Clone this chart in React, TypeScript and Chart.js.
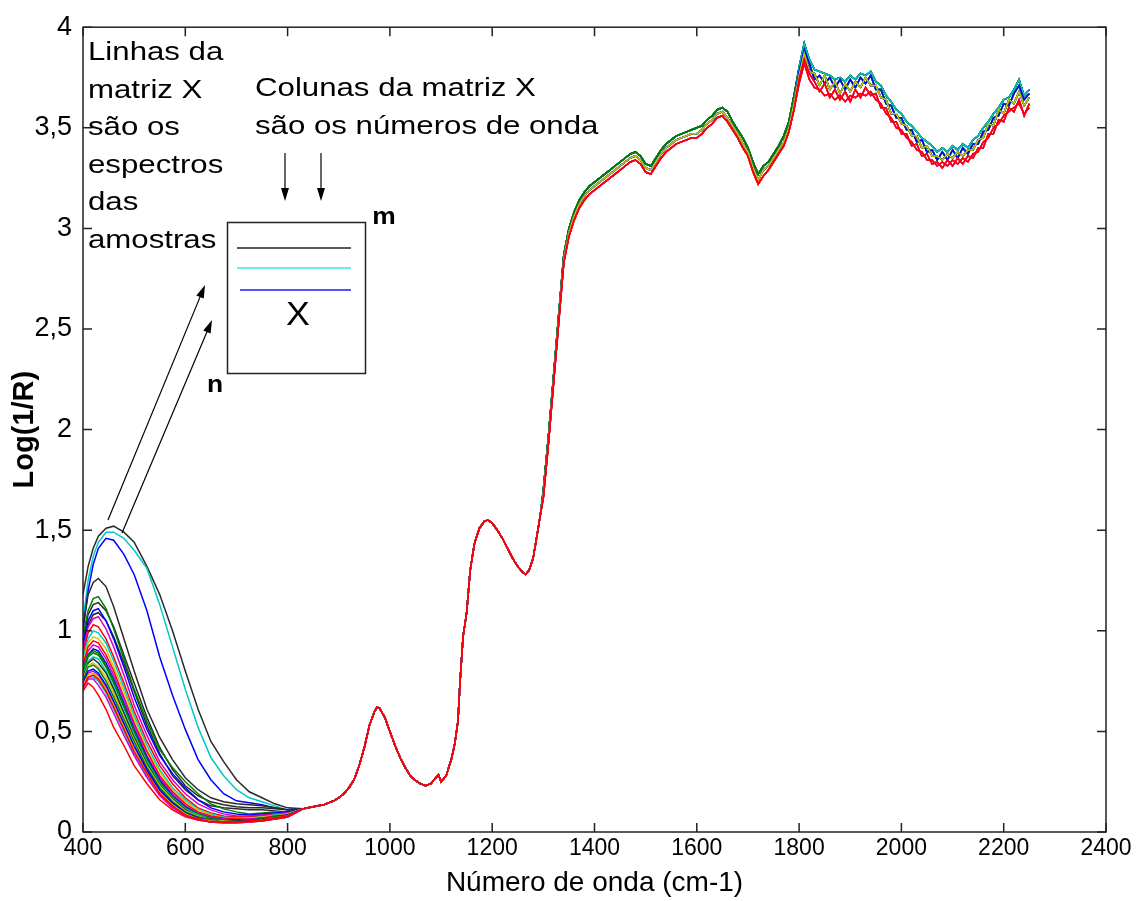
import React, { useEffect, useRef } from 'react';
import { Chart, registerables } from 'chart.js';

Chart.register(...registerables);

// ---------- data ----------
// wavenumbers (cm-1) of the low region where the samples differ
const lowX = [400, 410, 420, 430, 445, 460, 480, 500, 525, 550, 575, 600, 625, 650, 675, 700, 725, 750, 775, 800];

// Log(1/R) per sample in the low region
const s01 = [1.18, 1.32, 1.41, 1.47, 1.51, 1.52, 1.49, 1.44, 1.32, 1.18, 1.0, 0.8, 0.61, 0.45, 0.35, 0.26, 0.2, 0.17, 0.14, 0.12];
const s02 = [1.05, 1.25, 1.37, 1.44, 1.49, 1.49, 1.46, 1.4, 1.31, 1.13, 0.92, 0.71, 0.52, 0.37, 0.28, 0.21, 0.17, 0.15, 0.13, 0.11];
const s03 = [1.0, 1.2, 1.33, 1.41, 1.46, 1.45, 1.38, 1.28, 1.1, 0.87, 0.68, 0.51, 0.36, 0.26, 0.19, 0.155, 0.145, 0.135, 0.12, 0.11];
const s04 = [1.02, 1.18, 1.24, 1.26, 1.22, 1.12, 0.96, 0.8, 0.61, 0.47, 0.36, 0.27, 0.21, 0.17, 0.15, 0.14, 0.135, 0.13, 0.12, 0.11];
const s05 = [0.95, 1.08, 1.13, 1.14, 1.1, 1.02, 0.88, 0.74, 0.57, 0.42, 0.31, 0.23, 0.18, 0.15, 0.135, 0.125, 0.12, 0.12, 0.115, 0.11];
const s06 = [0.92, 1.03, 1.08, 1.09, 1.05, 0.97, 0.84, 0.7, 0.53, 0.39, 0.28, 0.21, 0.16, 0.13, 0.12, 0.115, 0.11, 0.11, 0.105, 0.1];
const s07 = [0.98, 1.1, 1.16, 1.17, 1.11, 1.01, 0.86, 0.71, 0.55, 0.41, 0.32, 0.25, 0.19, 0.14, 0.115, 0.1, 0.09, 0.095, 0.1, 0.1];
const s08 = [0.93, 1.05, 1.1, 1.11, 1.05, 0.96, 0.82, 0.67, 0.51, 0.38, 0.29, 0.22, 0.16, 0.12, 0.1, 0.09, 0.085, 0.09, 0.095, 0.1];
const s09 = [0.9, 1.02, 1.06, 1.07, 1.01, 0.92, 0.78, 0.63, 0.48, 0.35, 0.26, 0.19, 0.14, 0.11, 0.09, 0.08, 0.08, 0.085, 0.09, 0.095];
const s10 = [0.88, 0.99, 1.03, 1.02, 0.96, 0.87, 0.74, 0.6, 0.45, 0.33, 0.24, 0.17, 0.12, 0.095, 0.08, 0.075, 0.075, 0.08, 0.085, 0.09];
const s11 = [0.86, 0.96, 1.0, 0.99, 0.94, 0.85, 0.72, 0.58, 0.43, 0.31, 0.22, 0.16, 0.115, 0.09, 0.075, 0.07, 0.07, 0.075, 0.085, 0.09];
const s12 = [0.84, 0.94, 0.97, 0.96, 0.91, 0.82, 0.7, 0.56, 0.41, 0.3, 0.21, 0.15, 0.11, 0.085, 0.07, 0.065, 0.07, 0.075, 0.08, 0.09];
const s13 = [0.83, 0.92, 0.95, 0.94, 0.88, 0.8, 0.67, 0.54, 0.4, 0.28, 0.2, 0.14, 0.1, 0.08, 0.07, 0.065, 0.065, 0.07, 0.08, 0.085];
const s14 = [0.81, 0.9, 0.93, 0.92, 0.86, 0.78, 0.66, 0.53, 0.38, 0.27, 0.19, 0.13, 0.095, 0.075, 0.065, 0.06, 0.065, 0.07, 0.075, 0.085];
const s15 = [0.8, 0.88, 0.91, 0.9, 0.84, 0.76, 0.64, 0.51, 0.37, 0.26, 0.18, 0.125, 0.09, 0.07, 0.06, 0.06, 0.06, 0.065, 0.075, 0.085];
const s16 = [0.79, 0.87, 0.89, 0.88, 0.82, 0.74, 0.62, 0.5, 0.36, 0.25, 0.175, 0.12, 0.09, 0.07, 0.06, 0.055, 0.06, 0.065, 0.075, 0.08];
const s17 = [0.78, 0.85, 0.87, 0.86, 0.8, 0.72, 0.6, 0.48, 0.35, 0.24, 0.17, 0.115, 0.085, 0.065, 0.055, 0.055, 0.06, 0.065, 0.07, 0.08];
const s18 = [0.77, 0.84, 0.86, 0.84, 0.79, 0.71, 0.59, 0.47, 0.34, 0.235, 0.165, 0.11, 0.08, 0.065, 0.055, 0.055, 0.06, 0.065, 0.07, 0.08];
const s19 = [0.76, 0.83, 0.84, 0.82, 0.77, 0.69, 0.57, 0.46, 0.33, 0.23, 0.16, 0.105, 0.08, 0.06, 0.055, 0.05, 0.055, 0.06, 0.07, 0.08];
const s20 = [0.75, 0.82, 0.83, 0.81, 0.75, 0.67, 0.56, 0.45, 0.32, 0.22, 0.15, 0.1, 0.075, 0.06, 0.05, 0.05, 0.055, 0.06, 0.07, 0.08];
const s21 = [0.74, 0.8, 0.81, 0.79, 0.73, 0.65, 0.54, 0.43, 0.31, 0.21, 0.145, 0.095, 0.07, 0.055, 0.05, 0.05, 0.055, 0.06, 0.065, 0.075];
const s22 = [0.74, 0.79, 0.8, 0.78, 0.72, 0.64, 0.53, 0.42, 0.3, 0.2, 0.14, 0.09, 0.07, 0.055, 0.05, 0.05, 0.05, 0.06, 0.065, 0.075];
const s23 = [0.72, 0.77, 0.78, 0.76, 0.7, 0.62, 0.51, 0.4, 0.29, 0.19, 0.13, 0.085, 0.065, 0.05, 0.05, 0.05, 0.05, 0.055, 0.065, 0.075];
const s24 = [0.72, 0.77, 0.77, 0.75, 0.69, 0.61, 0.5, 0.39, 0.28, 0.185, 0.125, 0.085, 0.065, 0.05, 0.045, 0.045, 0.05, 0.055, 0.065, 0.075];
const s25 = [0.71, 0.76, 0.76, 0.73, 0.67, 0.59, 0.48, 0.38, 0.27, 0.18, 0.12, 0.08, 0.06, 0.05, 0.045, 0.045, 0.05, 0.055, 0.065, 0.075];
const s26 = [0.7, 0.74, 0.72, 0.68, 0.61, 0.52, 0.43, 0.33, 0.24, 0.16, 0.11, 0.075, 0.06, 0.05, 0.05, 0.05, 0.055, 0.06, 0.07, 0.08];
const s27 = [0.81, 0.88, 0.9, 0.89, 0.83, 0.75, 0.63, 0.5, 0.36, 0.25, 0.17, 0.12, 0.085, 0.065, 0.06, 0.055, 0.06, 0.065, 0.075, 0.08];
const s28 = [0.73, 0.78, 0.79, 0.77, 0.71, 0.63, 0.52, 0.41, 0.29, 0.195, 0.135, 0.09, 0.065, 0.055, 0.05, 0.05, 0.05, 0.06, 0.065, 0.075];

const lowSeries = [s26, s23, s25, s28, s21, s22, s24, s20, s19, s18, s17, s16, s27, s15, s14, s13, s12, s11, s10, s09, s08, s07, s06, s05, s04, s03, s02, s01];
// MATLAB colour letter of each sample (same order as lowSeries)
const seriesColor = ['r', 'r', 'm', 'y', 'b', 'm', 'c', 'g', 'y', 'k', 'c', 'g', 'g', 'b', 'm', 'r', 'y', 'c', 'r', 'm', 'b', 'g', 'k', 'k', 'k', 'b', 'c', 'k'];
// which trace each sample follows in 1300–1790 and in 1800–2250 cm-1
const seriesBand1 = ['C', 'C', 'C', 'B', 'B', 'C', 'B', 'A', 'B', 'A', 'A', 'B', 'A', 'B', 'B', 'C', 'B', 'A', 'C', 'B', 'B', 'A', 'A', 'A', 'A', 'B', 'A', 'A'];
const seriesBand2 = ['C', 'E', 'E', 'B', 'D', 'C', 'A', 'D', 'E', 'A', 'D', 'B', 'A', 'B', 'E', 'C', 'D', 'A', 'E', 'B', 'D', 'A', 'B', 'D', 'A', 'B', 'A', 'D'];

// common spectrum, 830–1295 cm-1
const midX = [830, 840, 850, 860, 870, 880, 890, 900, 910, 920, 930, 940, 950, 960, 970, 975, 980, 990, 1000, 1010, 1020, 1030, 1040, 1050, 1060, 1070, 1080, 1090, 1095, 1100, 1110, 1120, 1127, 1133, 1137, 1143, 1150, 1157, 1165, 1175, 1185, 1192, 1200, 1210, 1220, 1230, 1240, 1250, 1258, 1265, 1272, 1280, 1288, 1295];
const midY = [0.115, 0.12, 0.125, 0.13, 0.135, 0.145, 0.155, 0.17, 0.19, 0.22, 0.26, 0.33, 0.42, 0.53, 0.6, 0.62, 0.615, 0.57, 0.5, 0.43, 0.37, 0.32, 0.28, 0.255, 0.24, 0.23, 0.24, 0.27, 0.285, 0.25, 0.28, 0.36, 0.44, 0.55, 0.74, 0.97, 1.09, 1.3, 1.43, 1.51, 1.545, 1.55, 1.535, 1.5, 1.46, 1.41, 1.36, 1.32, 1.295, 1.28, 1.3, 1.36, 1.48, 1.59];

// 1300–1790 cm-1, every 10 cm-1
const band1X = Array.from({ length: 50 }, (_, i) => 1300 + i * 10);
const band1A = [
  1.7, 1.97, 2.27, 2.57, 2.87, 3.0, 3.08, 3.14, 3.18, 3.21, 3.23, 3.25, 3.27, 3.29, 3.31, 3.33, 3.35, 3.37, 3.38, 3.36,
  3.32, 3.31, 3.35, 3.39, 3.42, 3.44, 3.46, 3.47, 3.48, 3.49, 3.5, 3.51, 3.54, 3.56, 3.59, 3.6, 3.58, 3.53, 3.49, 3.45,
  3.4, 3.33, 3.27, 3.31, 3.33, 3.37, 3.41, 3.46, 3.53, 3.66,
];
const band1B = [
  1.68, 1.95, 2.25, 2.55, 2.85, 2.98, 3.06, 3.12, 3.16, 3.19, 3.21, 3.23, 3.25, 3.27, 3.29, 3.31, 3.33, 3.35, 3.36, 3.34,
  3.3, 3.29, 3.33, 3.37, 3.4, 3.42, 3.44, 3.45, 3.46, 3.47, 3.47, 3.49, 3.52, 3.54, 3.57, 3.58, 3.55, 3.51, 3.47, 3.42,
  3.38, 3.3, 3.24, 3.29, 3.31, 3.35, 3.39, 3.43, 3.5, 3.62,
];
const band1C = [
  1.66, 1.93, 2.23, 2.53, 2.83, 2.96, 3.04, 3.1, 3.14, 3.17, 3.19, 3.21, 3.23, 3.25, 3.27, 3.29, 3.31, 3.33, 3.34, 3.32,
  3.28, 3.27, 3.31, 3.35, 3.38, 3.4, 3.42, 3.43, 3.44, 3.45, 3.45, 3.47, 3.5, 3.52, 3.55, 3.56, 3.53, 3.49, 3.45, 3.4,
  3.36, 3.28, 3.22, 3.26, 3.29, 3.33, 3.37, 3.41, 3.48, 3.59,
];

// 1800–2250 cm-1, every 10 cm-1 (noisy)
const band2X = Array.from({ length: 46 }, (_, i) => 1800 + i * 10);
const band2A = [
  3.8, 3.92, 3.84, 3.79, 3.78, 3.77, 3.76, 3.74, 3.75, 3.73, 3.76, 3.74, 3.77, 3.76, 3.78, 3.73, 3.71, 3.66, 3.63, 3.59,
  3.57, 3.53, 3.51, 3.48, 3.45, 3.43, 3.41, 3.38, 3.4, 3.38, 3.41, 3.39, 3.42, 3.4, 3.44, 3.46, 3.5, 3.53, 3.57, 3.6,
  3.64, 3.65, 3.69, 3.74, 3.66, 3.69,
];
const band2D = [
  3.78, 3.89, 3.82, 3.74, 3.76, 3.72, 3.75, 3.7, 3.74, 3.69, 3.74, 3.7, 3.75, 3.72, 3.76, 3.69, 3.69, 3.62, 3.61, 3.55,
  3.55, 3.49, 3.49, 3.43, 3.44, 3.38, 3.39, 3.34, 3.38, 3.34, 3.39, 3.35, 3.4, 3.37, 3.42, 3.42, 3.48, 3.49, 3.55, 3.56,
  3.62, 3.61, 3.67, 3.71, 3.64, 3.67,
];
const band2B = [
  3.76, 3.87, 3.78, 3.77, 3.71, 3.76, 3.69, 3.73, 3.67, 3.72, 3.68, 3.73, 3.7, 3.75, 3.71, 3.71, 3.65, 3.64, 3.57, 3.57,
  3.52, 3.51, 3.46, 3.46, 3.4, 3.41, 3.36, 3.36, 3.34, 3.37, 3.35, 3.38, 3.36, 3.39, 3.39, 3.44, 3.45, 3.52, 3.51, 3.59,
  3.57, 3.64, 3.62, 3.68, 3.61, 3.65,
];
const band2E = [
  3.74, 3.84, 3.77, 3.73, 3.68, 3.72, 3.65, 3.69, 3.64, 3.68, 3.63, 3.69, 3.65, 3.7, 3.66, 3.67, 3.6, 3.6, 3.53, 3.53,
  3.47, 3.47, 3.41, 3.42, 3.36, 3.37, 3.32, 3.33, 3.3, 3.34, 3.31, 3.35, 3.32, 3.36, 3.35, 3.4, 3.4, 3.47, 3.47, 3.54,
  3.53, 3.6, 3.58, 3.64, 3.56, 3.62,
];
const band2C = [
  3.72, 3.82, 3.74, 3.7, 3.69, 3.66, 3.67, 3.64, 3.66, 3.63, 3.66, 3.65, 3.67, 3.66, 3.68, 3.64, 3.62, 3.57, 3.55, 3.5,
  3.49, 3.45, 3.43, 3.39, 3.38, 3.34, 3.34, 3.31, 3.33, 3.31, 3.34, 3.32, 3.35, 3.33, 3.37, 3.38, 3.43, 3.45, 3.5, 3.52,
  3.56, 3.58, 3.6, 3.62, 3.57, 3.6,
];

const yTickLabels = ['0', '0,5', '1', '1,5', '2', '2,5', '3', '3,5', '4'];

const COLORS: Record<string, string> = {
  b: '#0000ff',
  g: '#008000',
  r: '#ff0000',
  c: '#00c8c8',
  m: '#d400d4',
  y: '#c8c800',
  k: '#2a2a2a',
};
const BAND1: Record<string, number[]> = { A: band1A, B: band1B, C: band1C };
const BAND2: Record<string, number[]> = { A: band2A, B: band2B, C: band2C, D: band2D, E: band2E };

const FONT = '"Liberation Sans", Arial, Helvetica, sans-serif';

function drawText(ctx: CanvasRenderingContext2D, s: string, x: number, y: number, size: number, weight = 'normal', sx = 1, align: CanvasTextAlign = 'left') {
  ctx.save();
  ctx.font = `${weight} ${size}px ${FONT}`;
  ctx.fillStyle = '#000';
  ctx.textAlign = align;
  ctx.textBaseline = 'alphabetic';
  ctx.translate(x, y);
  ctx.scale(sx, 1);
  ctx.fillText(s, 0, 0);
  ctx.restore();
}

function drawArrow(ctx: CanvasRenderingContext2D, x1: number, y1: number, x2: number, y2: number) {
  const ang = Math.atan2(y2 - y1, x2 - x1);
  const hl = 13;
  const hw = 4;
  ctx.save();
  ctx.strokeStyle = '#000';
  ctx.fillStyle = '#000';
  ctx.lineWidth = 1.2;
  ctx.beginPath();
  ctx.moveTo(x1, y1);
  ctx.lineTo(x2 - Math.cos(ang) * hl * 0.8, y2 - Math.sin(ang) * hl * 0.8);
  ctx.stroke();
  ctx.beginPath();
  ctx.moveTo(x2, y2);
  ctx.lineTo(x2 - Math.cos(ang) * hl + Math.sin(ang) * hw, y2 - Math.sin(ang) * hl - Math.cos(ang) * hw);
  ctx.lineTo(x2 - Math.cos(ang) * hl - Math.sin(ang) * hw, y2 - Math.sin(ang) * hl + Math.cos(ang) * hw);
  ctx.closePath();
  ctx.fill();
  ctx.restore();
}

const boxPlugin = {
  id: 'matlabBox',
  afterDatasetsDraw(chart: any) {
    const { ctx, chartArea: a, scales } = chart;
    ctx.save();
    ctx.strokeStyle = '#222';
    ctx.lineWidth = 1.5;
    ctx.strokeRect(a.left, a.top, a.right - a.left, a.bottom - a.top);
    const tl = 9;
    ctx.beginPath();
    scales.x.ticks.forEach((t: any) => {
      const px = scales.x.getPixelForValue(t.value);
      ctx.moveTo(px, a.bottom);
      ctx.lineTo(px, a.bottom - tl);
      ctx.moveTo(px, a.top);
      ctx.lineTo(px, a.top + tl);
    });
    scales.y.ticks.forEach((t: any) => {
      const py = scales.y.getPixelForValue(t.value);
      ctx.moveTo(a.left, py);
      ctx.lineTo(a.left + tl, py);
      ctx.moveTo(a.right, py);
      ctx.lineTo(a.right - tl, py);
    });
    ctx.stroke();
    ctx.restore();

    // annotations
    const sx = 1.2;
    const fs = 26;
    const leftLines = ['Linhas da', 'matriz X', 'são os', 'espectros', 'das', 'amostras'];
    leftLines.forEach((s, i) => drawText(ctx, s, 88, 60 + i * 37.5, fs, 'normal', sx));
    drawText(ctx, 'Colunas da matriz X', 255, 96, fs, 'normal', sx);
    drawText(ctx, 'são os números de onda', 255, 134, fs, 'normal', sx);

    drawArrow(ctx, 285, 153, 285, 201);
    drawArrow(ctx, 321, 153, 321, 201);

    ctx.save();
    ctx.strokeStyle = '#222';
    ctx.lineWidth = 1.5;
    ctx.strokeRect(227.5, 222.5, 138, 151);
    ctx.lineWidth = 1.6;
    ctx.strokeStyle = '#222';
    ctx.beginPath(); ctx.moveTo(237, 248); ctx.lineTo(351, 248); ctx.stroke();
    ctx.strokeStyle = '#33e6e6';
    ctx.beginPath(); ctx.moveTo(237, 268); ctx.lineTo(351, 268); ctx.stroke();
    ctx.strokeStyle = '#1a1aff';
    ctx.beginPath(); ctx.moveTo(240, 290); ctx.lineTo(351, 290); ctx.stroke();
    ctx.restore();

    drawText(ctx, 'X', 298, 325, 34, 'normal', 1.05, 'center');
    drawText(ctx, 'm', 384, 224, 24, 'bold', 1.1, 'center');
    drawText(ctx, 'n', 215, 392, 24, 'bold', 1.1, 'center');

    drawArrow(ctx, 108, 520, 205, 285);
    drawArrow(ctx, 122, 533, 212, 320);
  },
};

export default function App() {
  const ref = useRef<HTMLCanvasElement>(null);
  useEffect(() => {
    if (!ref.current) return;
    const datasets = lowSeries.map((low, i) => {
      const b1 = BAND1[seriesBand1[i]];
      const b2 = BAND2[seriesBand2[i]];
      const data = [
        ...lowX.map((x, j) => ({ x, y: low[j] })),
        ...midX.map((x, j) => ({ x, y: midY[j] })),
        ...band1X.map((x, j) => ({ x, y: b1[j] })),
        ...band2X.map((x, j) => ({ x, y: b2[j] })),
      ];
      return {
        label: `amostra ${i + 1}`,
        data,
        borderColor: COLORS[seriesColor[i]],
        backgroundColor: COLORS[seriesColor[i]],
        borderWidth: 1.5,
        pointRadius: 0,
        fill: false,
        tension: 0,
      };
    });

    const chart = new Chart(ref.current, {
      type: 'line',
      data: { datasets },
      options: {
        responsive: false,
        animation: false,
        layout: { padding: { top: 25, right: 32, left: 0, bottom: 0 } },
        plugins: { legend: { display: false }, tooltip: { enabled: false } },
        scales: {
          x: {
            type: 'linear',
            min: 400,
            max: 2400,
            afterFit: (s: any) => { s.height = 69; },
            grid: { display: false, drawTicks: false },
            border: { display: false },
            ticks: {
              stepSize: 200,
              autoSkip: false,
              maxRotation: 0,
              padding: 3,
              color: '#000',
              font: { family: FONT, size: 23 },
              callback: (v: any) => String(v),
            },
            title: {
              display: true,
              text: 'Número de onda (cm-1)',
              color: '#000',
              font: { family: FONT, size: 28 },
              padding: { top: 0, bottom: 1 },
            },
          },
          y: {
            type: 'linear',
            min: 0,
            max: 4,
            afterFit: (s: any) => { s.width = 83; },
            grid: { display: false, drawTicks: false },
            border: { display: false },
            ticks: {
              stepSize: 0.5,
              padding: 11,
              color: '#000',
              font: { family: FONT, size: 27 },
              callback: (v: any) => yTickLabels[Math.round(Number(v) * 2)] ?? String(v),
            },
            title: {
              display: true,
              text: 'Log(1/R)',
              color: '#000',
              font: { family: FONT, size: 29, weight: 'bold' },
              padding: { top: 8, bottom: 0 },
            },
          },
        },
      },
      plugins: [boxPlugin],
    });
    return () => chart.destroy();
  }, []);

  return (
    <div style={{ position: 'absolute', left: 0, top: 0, width: 1138, height: 901, background: '#fff' }}>
      <canvas ref={ref} width={1138} height={901} style={{ display: 'block', width: 1138, height: 901 }} />
    </div>
  );
}
